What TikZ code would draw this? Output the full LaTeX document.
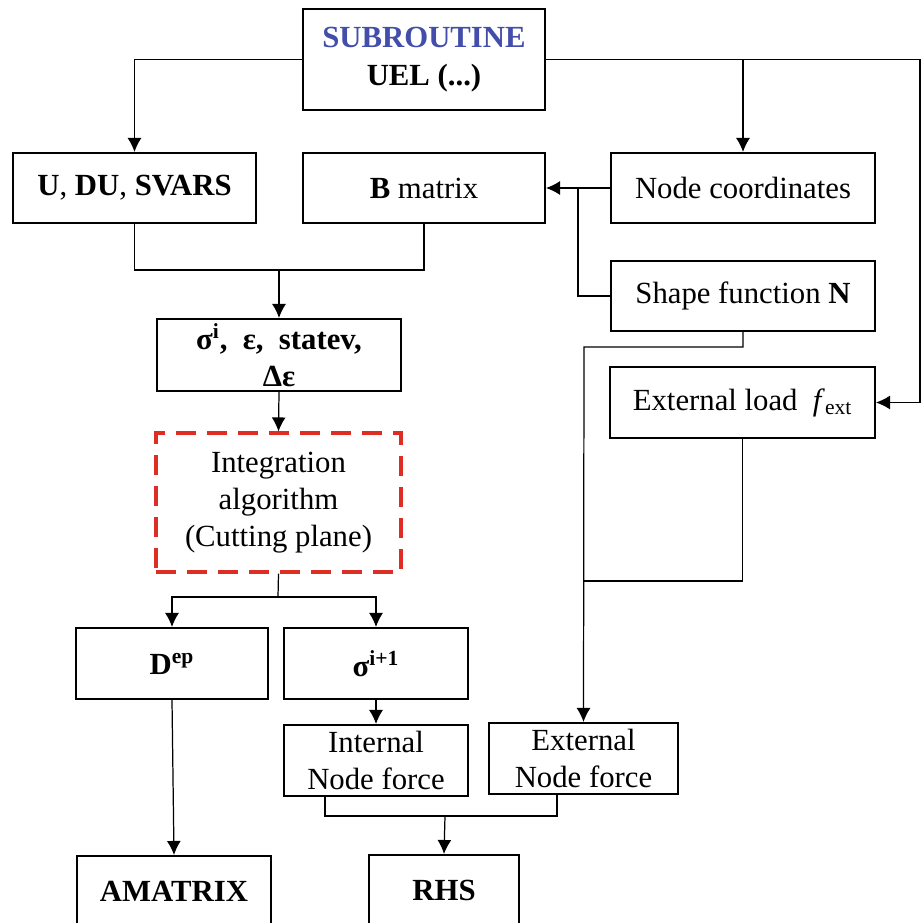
\documentclass[tikz,border=0pt]{standalone}
\usepackage{fontspec}
\setmainfont{Liberation Serif}
\usepackage{tikz}
\usetikzlibrary{arrows.meta}
\definecolor{subblue}{RGB}{66,78,170}
\definecolor{algred}{RGB}{222,45,35}
\tikzset{
  blk/.style={draw, line width=1.2pt, align=center, inner sep=0pt, font=\fontsize{17.5}{21}\selectfont},
  algblk/.style={blk, draw=algred, line width=1.8pt, dash pattern=on 4mm off 2.2mm},
  con/.style={line width=0.7pt}
}

\begin{document}
\begin{tikzpicture}[x=0.02cm, y=-0.02cm, >={Latex[length=2.8mm,width=2.8mm]}]
\useasboundingbox (0,0) rectangle (922,923);

\node[blk, minimum width=4.84cm, minimum height=2.02cm] (sub) at (424,59.5) {\rule{0pt}{3.5mm}\textcolor{subblue}{\textbf{SUBROUTINE}}\\[1pt]\textbf{UEL (...)}};

\node[blk, minimum width=4.86cm, minimum height=1.4cm] (udu) at (134.5,188) {\textbf{U}, \textbf{DU}, \textbf{SVARS}};
\node[blk, minimum width=4.84cm, minimum height=1.4cm] (bmat) at (424,188) {\textbf{B} matrix};
\node[blk, minimum width=5.28cm, minimum height=1.4cm] (nodec) at (743,188) {Node coordinates};
\node[blk, minimum width=5.28cm, minimum height=1.4cm] (shape) at (743,296) {Shape function \textbf{N}};
\node[blk, minimum width=5.3cm, minimum height=1.42cm] (extload) at (742.5,402.5) {External load\ \ \textit{f}\textsubscript{ext}};

\node[blk, minimum width=4.88cm, minimum height=1.44cm] (sig) at (279,355) {\textbf{σ\textsuperscript{i},\ \ ε,\ \ statev,}\\\textbf{Δε}};
\node[algblk, minimum width=4.9cm, minimum height=2.78cm] (integ) at (278.5,502.5) {Integration\\algorithm\\(Cutting plane)};

\node[blk, minimum width=3.84cm, minimum height=1.42cm] (dep) at (172,663.5) {\textbf{D\textsuperscript{ep}}};
\node[blk, minimum width=3.68cm, minimum height=1.42cm] (signew) at (376,663.5) {\textbf{σ\textsuperscript{i+1}}};
\node[blk, minimum width=3.68cm, minimum height=1.42cm] (intf) at (376,760.5) {Internal\\Node force};
\node[blk, minimum width=3.78cm, minimum height=1.42cm] (extf) at (583.5,758.5) {External\\Node force};

\node[blk, minimum width=3.88cm, minimum height=1.42cm] (amat) at (174,891.5) {\textbf{AMATRIX}};
\node[blk, minimum width=3cm, minimum height=1.42cm] (rhs) at (444,890.5) {\textbf{RHS}};

\coordinate (rgt) at (920,59.5);
\coordinate (jb) at (578,188);
\coordinate (j1) at (279,270);
\coordinate (j2) at (278,597);
\coordinate (j3) at (584,347);
\coordinate (j4) at (584,581);
\coordinate (j5) at (445,816);

\draw[con,->] (sub.west) -| (udu.north);
\draw[con,->] (sub.east) -| (nodec.north);
\draw[con,->] (sub.east) -- (rgt) |- (extload.east);
\draw[con,->] (nodec.west) -- (bmat.east);
\draw[con] (shape.west) -| (jb);
\draw[con] (udu.south) |- (j1) -| (bmat.south);
\draw[con,->] (j1) -- (sig.north);
\draw[con,->] (sig.south) -- (integ.north);
\draw[con] (integ.south) -- (j2);
\draw[con,->] (j2) -| (dep.north);
\draw[con,->] (j2) -| (signew.north);
\draw[con,->] (signew.south) -- (intf.north);
\draw[con,->] (shape.south) |- (j3) -- (extf.north);
\draw[con] (extload.south) |- (j4);
\draw[con,->] (dep.south) -- (amat.north);
\draw[con] ([xshift=-1.02cm]intf.south) |- (j5) -| ([xshift=-0.53cm]extf.south);
\draw[con,->] (j5) -- (rhs.north);
\end{tikzpicture}
\end{document}
